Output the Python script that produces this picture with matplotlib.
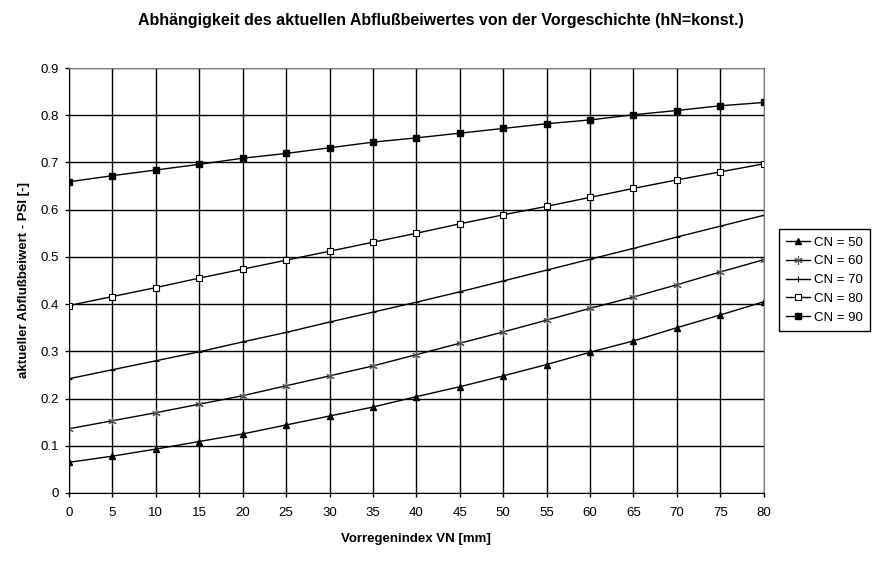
import matplotlib
matplotlib.use("Agg")
import matplotlib.pyplot as plt
import numpy as np

plt.rcParams['font.family'] = ['Liberation Sans', 'DejaVu Sans']

vn = [0, 5, 10, 15, 20, 25, 30, 35, 40, 45, 50, 55, 60, 65, 70, 75, 80]

psi_cn50 = [0.065, 0.078, 0.093, 0.109, 0.125, 0.144, 0.163, 0.182, 0.204,
            0.225, 0.248, 0.272, 0.298, 0.322, 0.350, 0.377, 0.405]
psi_cn60 = [0.136, 0.153, 0.170, 0.188, 0.206, 0.227, 0.248, 0.269, 0.293,
            0.317, 0.341, 0.366, 0.391, 0.415, 0.441, 0.468, 0.494]
psi_cn70 = [0.242, 0.261, 0.280, 0.299, 0.320, 0.340, 0.362, 0.383, 0.404,
            0.426, 0.449, 0.472, 0.495, 0.518, 0.542, 0.565, 0.588]
psi_cn80 = [0.397, 0.416, 0.435, 0.455, 0.474, 0.493, 0.512, 0.531, 0.550,
            0.570, 0.589, 0.607, 0.626, 0.645, 0.663, 0.680, 0.697]
psi_cn90 = [0.659, 0.672, 0.684, 0.696, 0.709, 0.719, 0.731, 0.743, 0.752,
            0.762, 0.772, 0.782, 0.790, 0.801, 0.810, 0.820, 0.827]

labels = ['CN = 50', 'CN = 60', 'CN = 70', 'CN = 80', 'CN = 90']

fig = plt.figure(figsize=(8.88, 5.62), dpi=100)
ax = fig.add_axes([0.0777, 0.1228, 0.7823, 0.7562])

ax.plot(vn, psi_cn50, color='black', lw=1, marker='^', ms=5,
        mfc='black', mec='black', label=labels[0])
ax.plot(vn, psi_cn60, color='black', lw=1, marker=(6, 2, 0), ms=6,
        mec='#555555', mew=0.8, label=labels[1])
ax.plot(vn, psi_cn70, color='black', lw=1, marker='+', ms=5,
        mew=0.8, label=labels[2])
ax.plot(vn, psi_cn80, color='black', lw=1, marker='s', ms=4.5,
        mfc='white', mec='black', mew=0.8, label=labels[3])
ax.plot(vn, psi_cn90, color='black', lw=1, marker='s', ms=5,
        mfc='black', mec='black', label=labels[4])

ax.set_xlim(0, 80)
ax.set_ylim(0, 0.9)
ax.set_xticks(np.arange(0, 81, 5))
ax.set_yticks(np.arange(0, 0.91, 0.1))
ax.set_yticklabels(['0', '0.1', '0.2', '0.3', '0.4', '0.5', '0.6', '0.7', '0.8', '0.9'])
ax.grid(True, color='black', lw=1)
ax.set_axisbelow(True)
ax.tick_params(direction='out', length=3, width=1, labelsize=9.5, color='black')
ax.tick_params(axis='x', pad=7)
ax.tick_params(axis='y', pad=4)

for side in ['left', 'bottom']:
    ax.spines[side].set_color('black')
for side in ['top', 'right']:
    ax.spines[side].set_color('#808080')

ax.set_xlabel('Vorregenindex VN [mm]', fontsize=9.5, fontweight='bold', labelpad=10)
ax.set_ylabel('aktueller Abflußbeiwert - PSI [-]', fontsize=9.5, fontweight='bold', labelpad=8)
fig.text(0.496, 0.963, 'Abhängigkeit des aktuellen Abflußbeiwertes von der Vorgeschichte (hN=konst.)',
         ha='center', va='center', fontsize=11.5, fontweight='bold')

leg = fig.legend(loc='upper left', bbox_to_anchor=(0.877, 0.5925), fontsize=9.5,
                 frameon=True, fancybox=False, edgecolor='black', framealpha=1,
                 handlelength=1.8, handletextpad=0.3, labelspacing=0.5,
                 borderpad=0.55, borderaxespad=0)
leg.get_frame().set_linewidth(1)

fig.savefig('out.png', dpi=100)
